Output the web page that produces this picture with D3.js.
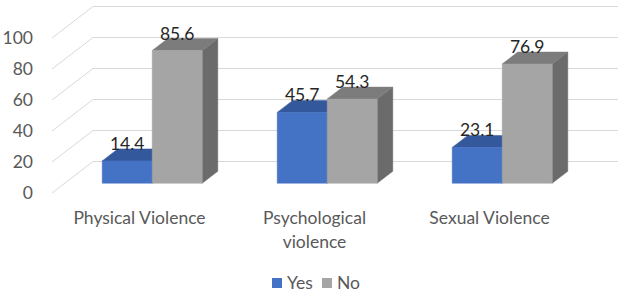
<!DOCTYPE html>
<html>
<head>
<meta charset="utf-8">
<script src="https://cdn.jsdelivr.net/npm/d3@7"></script>
<style>
  html, body { margin: 0; padding: 0; background: #fff; }
  svg { display: block; }
  text { font-family: Lato, "Open Sans", sans-serif; }
</style>
</head>
<body>
<svg id="chart" width="624" height="297"></svg>
<script>
// ---- data ----
const categories = ["Physical Violence", "Psychological violence", "Sexual Violence"];
const categoryLines = [["Physical Violence"], ["Psychological", "violence"], ["Sexual Violence"]];
const seriesNames = ["Yes", "No"];
const yesValues = [14.4, 45.7, 23.1];
const noValues = [85.6, 54.3, 76.9];
const yTicks = [0, 20, 40, 60, 80, 100];

// ---- styling / layout ----
const W = 624, H = 297;
const frontLeft = 52, frontRight = 577, front0 = 193, front100 = 38;
const DX = 41, DY = 31.5;          // oblique depth offset of full wall
const d0 = 0.31, d1 = 0.69;         // bar depth span
const colors = {
  Yes: { front: "#4472C4", top: "#34589C", side: "#2F5597" },
  No:  { front: "#A5A5A5", top: "#7C7C7C", side: "#6B6B6B" }
};
const labelFont = 17.5;

const svg = d3.select("#chart");

const x = d3.scaleBand().domain(categories).range([frontLeft, frontRight]).paddingInner(0).paddingOuter(0);
const sub = d3.scaleBand().domain(seriesNames).range([0, x.bandwidth()]).paddingInner(0).paddingOuter(0.75);
const y = d3.scaleLinear().domain([0, 100]).range([front0, front100]);

const proj = (px, v, d) => [px + d * DX, y(v) - d * DY];

// gridlines: side wall diagonal + back wall horizontal
const gridG = svg.append("g");
yTicks.forEach(t => {
  const pts = [proj(frontLeft, t, 0), proj(frontLeft, t, 1), proj(frontRight, t, 1)];
  gridG.append("polyline")
    .attr("points", pts.map(p => p.join(",")).join(" "))
    .attr("fill", "none")
    .attr("stroke", "#D9D9D9")
    .attr("stroke-width", 1);
});

// y axis labels
svg.append("g").selectAll("text").data(yTicks).join("text")
  .attr("x", 33)
  .attr("y", d => y(d))
  .attr("dy", "0.36em")
  .attr("text-anchor", "end")
  .attr("font-size", labelFont)
  .attr("fill", "#595959")
  .text(d => d);

// bars
const bars = [];
categories.forEach((c, i) => {
  bars.push({ cat: c, series: "Yes", value: yesValues[i] });
  bars.push({ cat: c, series: "No", value: noValues[i] });
});

const poly = pts => pts.map(p => p.join(",")).join(" ");
const barG = svg.append("g");
bars.forEach(b => {
  const x0 = x(b.cat) + sub(b.series), x1 = x0 + sub.bandwidth();
  const col = colors[b.series];
  const g = barG.append("g");
  // right side
  g.append("polygon")
    .attr("points", poly([proj(x1, b.value, d0), proj(x1, b.value, d1), proj(x1, 0, d1), proj(x1, 0, d0)]))
    .attr("fill", col.side).attr("stroke", col.side).attr("stroke-width", 0.5);
  // top
  g.append("polygon")
    .attr("points", poly([proj(x0, b.value, d0), proj(x1, b.value, d0), proj(x1, b.value, d1), proj(x0, b.value, d1)]))
    .attr("fill", col.top).attr("stroke", col.top).attr("stroke-width", 0.5);
  // front
  g.append("polygon")
    .attr("points", poly([proj(x0, b.value, d0), proj(x1, b.value, d0), proj(x1, 0, d0), proj(x0, 0, d0)]))
    .attr("fill", col.front).attr("stroke", col.front).attr("stroke-width", 0.5);
});

// data labels
svg.append("g").selectAll("text").data(bars).join("text")
  .attr("x", b => proj(x(b.cat) + sub(b.series) + sub.bandwidth() / 2, b.value, d0)[0])
  .attr("y", b => proj(0, b.value, d1)[1] + 1)
  .attr("text-anchor", "middle")
  .attr("font-size", labelFont)
  .attr("fill", "#262626")
  .text(b => b.value.toFixed(1));

// category labels
const catG = svg.append("g");
categories.forEach((c, i) => {
  const t = catG.append("text")
    .attr("x", x(c) + x.bandwidth() / 2)
    .attr("y", 224)
    .attr("text-anchor", "middle")
    .attr("font-size", labelFont)
    .attr("fill", "#595959");
  categoryLines[i].forEach((line, j) => {
    t.append("tspan")
      .attr("x", x(c) + x.bandwidth() / 2)
      .attr("dy", j === 0 ? 0 : 24)
      .text(line);
  });
});

// legend
const legend = svg.append("g");
const legendItems = [{ name: "Yes", x: 272 }, { name: "No", x: 322 }];
legendItems.forEach(it => {
  legend.append("rect")
    .attr("x", it.x).attr("y", 278)
    .attr("width", 10).attr("height", 10)
    .attr("fill", colors[it.name].front);
  legend.append("text")
    .attr("x", it.x + 15).attr("y", 289)
    .attr("font-size", labelFont)
    .attr("fill", "#595959")
    .text(it.name);
});
</script>
</body>
</html>
